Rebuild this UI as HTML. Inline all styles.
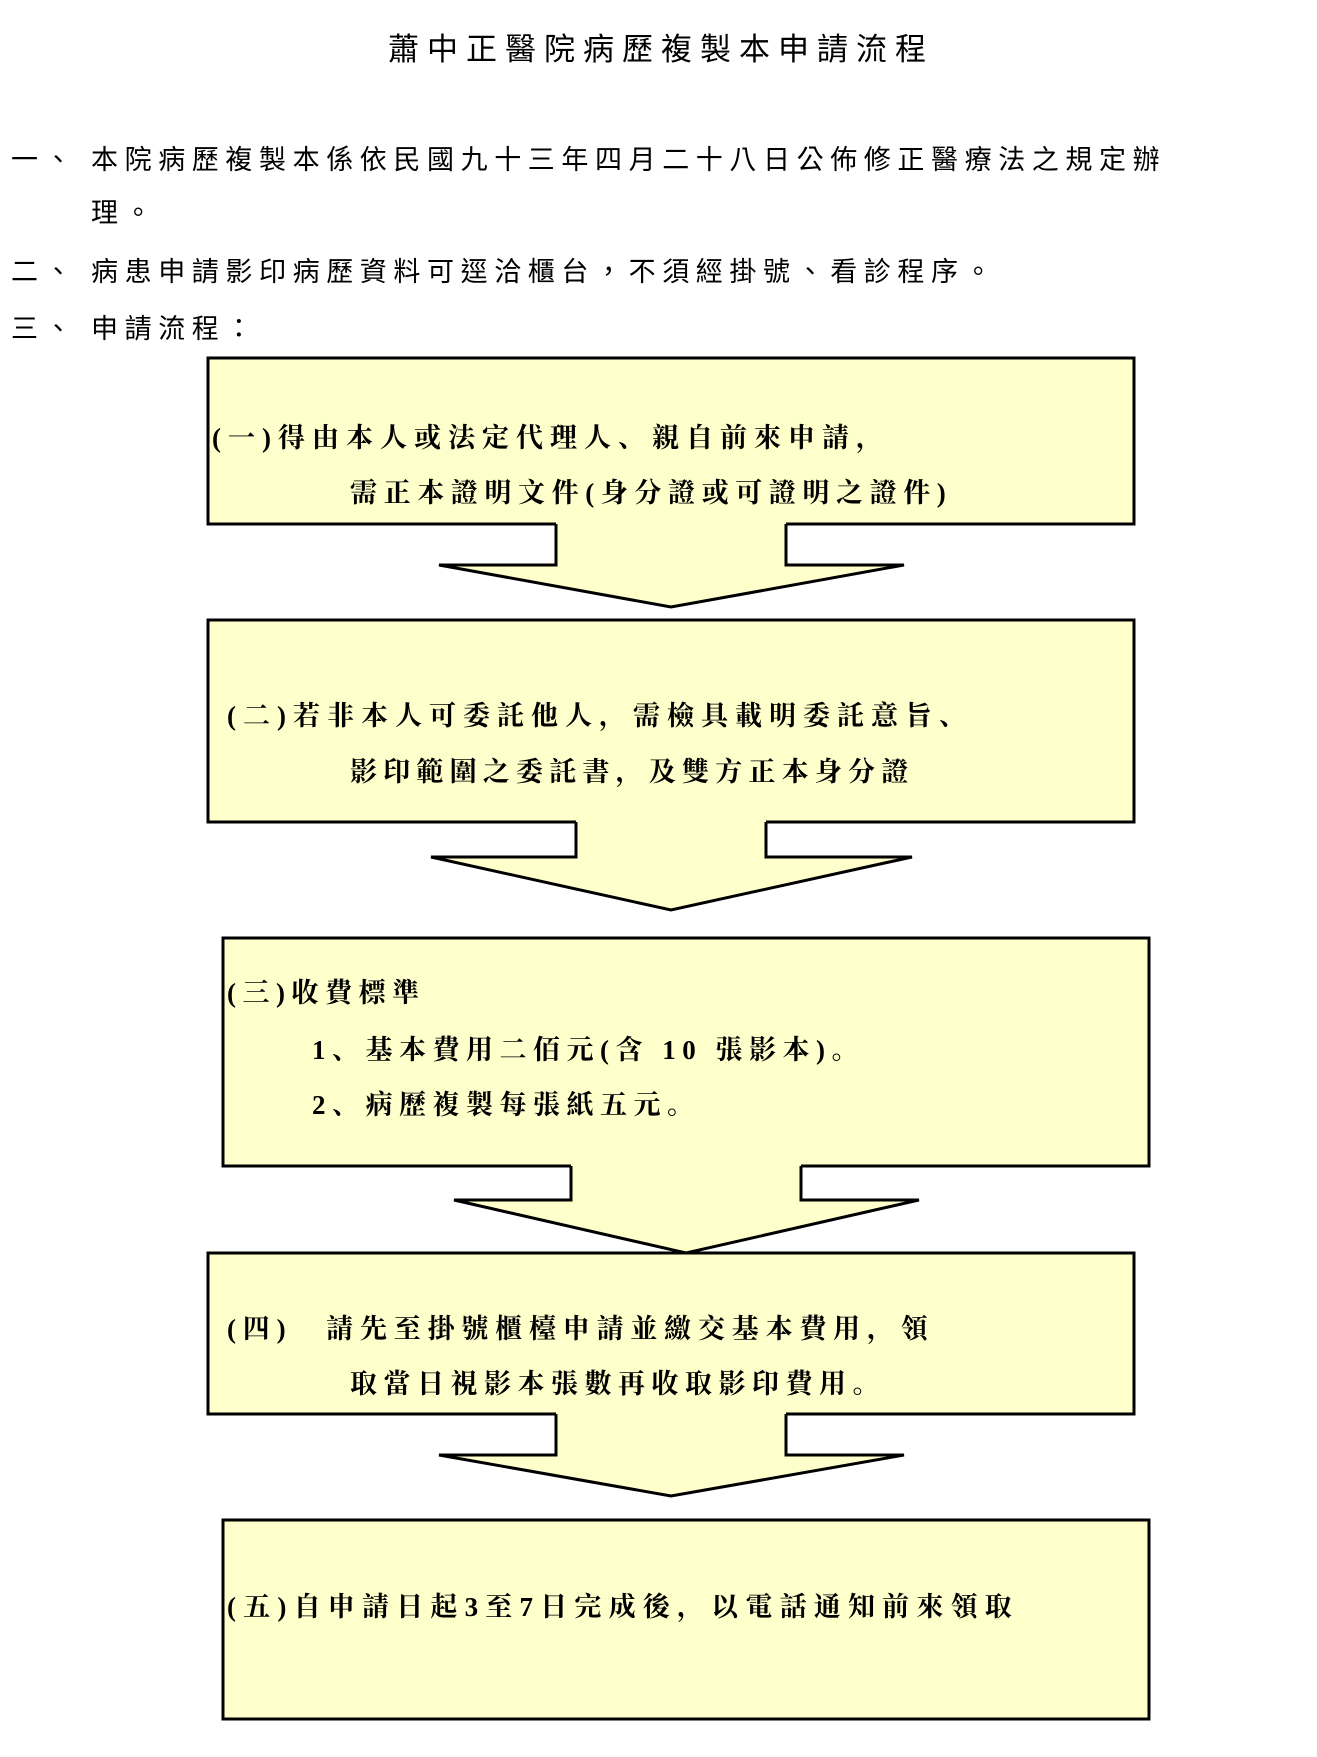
<!DOCTYPE html>
<html><head><meta charset="utf-8"><style>
body{margin:0;background:#fff;}
#p{position:relative;width:1317px;height:1757px;overflow:hidden;background:#fff;}
svg{position:absolute;left:0;top:0;}
.t{position:absolute;white-space:nowrap;font-family:"Liberation Serif","Noto Serif CJK SC",serif;color:#000;}
.n{font-size:27px;letter-spacing:6.6px;font-family:"Liberation Sans","Noto Sans CJK TC",sans-serif;}
.b{font-size:27px;letter-spacing:6.5px;font-weight:bold;}
</style></head><body><div id="p">
<svg width="1317" height="1757">
<g fill="#ffffcc" stroke="#000" stroke-width="3">
<rect x="208" y="358" width="926" height="166"/>
<rect x="208" y="620" width="926" height="202"/>
<rect x="223" y="938" width="926" height="228"/>
<rect x="208" y="1253" width="926" height="161"/>
<rect x="223" y="1520" width="926" height="199"/>
</g>
<g fill="#ffffcc" stroke="none">
<polygon points="556,520 786,520 786,565 904,565 671,607 439,565 556,565"/>
<polygon points="576,818 766,818 766,857 912,857 671,910 431,857 576,857"/>
<polygon points="571,1162 801,1162 801,1200 919,1200 686,1253 454,1200 571,1200"/>
<polygon points="556,1410 786,1410 786,1455 904,1455 671,1496 439,1455 556,1455"/>
</g>
<g fill="none" stroke="#000" stroke-width="3">
<polyline points="556,524 556,565 439,565 671,607 904,565 786,565 786,524"/>
<polyline points="576,822 576,857 431,857 671,910 912,857 766,857 766,822"/>
<polyline points="571,1166 571,1200 454,1200 686,1253 919,1200 801,1200 801,1166"/>
<polyline points="556,1414 556,1455 439,1455 671,1496 904,1455 786,1455 786,1414"/>
</g>
</svg>
<div class="t n" style="left:388px;top:24px;font-size:31px;letter-spacing:8px;">蕭中正醫院病歷複製本申請流程</div>
<div class="t n" style="left:11px;top:138px;">一、</div>
<div class="t n" style="left:91px;top:138px;">本院病歷複製本係依民國九十三年四月二十八日公佈修正醫療法之規定辦</div>
<div class="t n" style="left:91px;top:191px;">理。</div>
<div class="t n" style="left:11px;top:250px;">二、</div>
<div class="t n" style="left:91px;top:250px;">病患申請影印病歷資料可逕洽櫃台，不須經掛號、看診程序。</div>
<div class="t n" style="left:11px;top:307px;">三、</div>
<div class="t n" style="left:91px;top:307px;">申請流程：</div>

<div class="t b" style="left:212px;top:416px;letter-spacing:7px;">(一)得由本人或法定代理人、親自前來申請，</div>
<div class="t b" style="left:350px;top:471px;letter-spacing:6.6px;">需正本證明文件(身分證或可證明之證件)</div>
<div class="t b" style="left:227px;top:694px;letter-spacing:7px;">(二)若非本人可委託他人，需檢具載明委託意旨、</div>
<div class="t b" style="left:350px;top:750px;letter-spacing:6.2px;">影印範圍之委託書，及雙方正本身分證</div>
<div class="t b" style="left:227px;top:971px;">(三)收費標準</div>
<div class="t b" style="left:312px;top:1028px;">1、基本費用二佰元(含 10 張影本)。</div>
<div class="t b" style="left:312px;top:1083px;">2、病歷複製每張紙五元。</div>
<div class="t b" style="left:227px;top:1307px;letter-spacing:6.8px;">(四)　請先至掛號櫃檯申請並繳交基本費用，領</div>
<div class="t b" style="left:350px;top:1362px;">取當日視影本張數再收取影印費用。</div>
<div class="t b" style="left:227px;top:1585px;letter-spacing:7.2px;">(五)自申請日起3至7日完成後，以電話通知前來領取</div>
</div></body></html>
